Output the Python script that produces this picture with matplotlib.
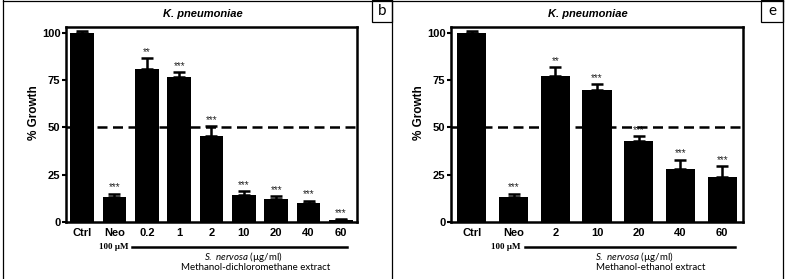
import matplotlib
matplotlib.use("Agg")
from matplotlib import pyplot as plt
from matplotlib.lines import Line2D
from matplotlib.patches import Rectangle
import matplotlib.transforms as mtransforms
import numpy as np

# panel b: methanol-dichloromethane extract
labels_b = ["Ctrl", "Neo", "0.2", "1", "2", "10", "20", "40", "60"]
growth_b = [100, 13, 81, 76.5, 45.5, 14.5, 12, 10, 1]
err_b = [1, 2, 5.5, 2.5, 5, 2, 1.5, 1.3, 0.5]
stars_b = ["", "***", "**", "***", "***", "***", "***", "***", "***"]

# panel e: methanol-ethanol extract
labels_e = ["Ctrl", "Neo", "2", "10", "20", "40", "60"]
growth_e = [100, 13, 77, 69.5, 43, 28, 24]
err_e = [1, 2, 5, 3.5, 2.5, 5, 5.5]
stars_e = ["", "***", "**", "***", "***", "***", "***"]

W, H = 786, 279
fig = plt.figure(figsize=(W / 100, H / 100), dpi=100)

TICK_FONT = "Liberation Sans"
NOTE_FONT = "Lato"
plt.rcParams["mathtext.fontset"] = "custom"
plt.rcParams["mathtext.it"] = "Lato:italic"
plt.rcParams["mathtext.rm"] = "Lato"


def px(x0, y0, w, h):
    # pixel box (from top-left) -> figure fraction rect
    return [x0 / W, (H - y0 - h) / H, w / W, h / H]


def panel(rect, labels, growth, err, stars, width, line_span, extract, letter_box):
    ax = fig.add_axes(rect)
    x = np.arange(len(labels))
    ax.bar(x, growth, width=width, color="black", zorder=2)
    ax.errorbar(x, growth, yerr=[np.zeros(len(err)), err], fmt="none",
                ecolor="black", elinewidth=1.8, capsize=4.5, capthick=1.8, zorder=3)
    for xi, g, e, s in zip(x, growth, err, stars):
        if s:
            ax.text(xi, g + e + 0.6, s, ha="center", va="bottom", fontsize=7,
                    family=TICK_FONT, color="#222222")
    ax.axhline(50, color="black", lw=1.8, ls=(0, (4, 2.2)), zorder=4)
    ax.set_xlim(-0.5, len(labels) - 0.5)
    ax.set_ylim(0, 103)
    ax.set_yticks([0, 25, 50, 75, 100])
    ax.set_xticks(x)
    ax.set_xticklabels(labels)
    for sp in ax.spines.values():
        sp.set_linewidth(1.8)
    ax.tick_params(axis="x", length=0, pad=4)
    ax.tick_params(axis="y", length=3, width=1.5, pad=1)
    for t in ax.get_xticklabels() + ax.get_yticklabels():
        t.set_fontfamily(TICK_FONT)
        t.set_fontweight("bold")
        t.set_fontsize(8)
    ax.set_ylabel("% Growth", family=TICK_FONT, fontweight="bold", fontsize=8.5)
    ax.yaxis.set_label_coords(-0.09, 0.56)
    ax.set_title("K. pneumoniae", family=TICK_FONT, fontweight="bold",
                 style="italic", fontsize=8, pad=7, x=0.47)

    trans = mtransforms.blended_transform_factory(ax.transData, ax.transAxes)
    ax.add_line(Line2D(line_span, [-0.128, -0.128], transform=trans, color="black",
                       lw=1.8, clip_on=False))
    ax.text(line_span[0] - 0.12, -0.128, "100 µM", transform=trans, ha="right",
            va="center", family="Liberation Serif", fontweight="bold", fontsize=6.5)
    cx = (line_span[0] + line_span[1]) / 2 + 0.1
    ax.text(cx, -0.18, "$S.\\ nervosa$ (µg/ml)", transform=trans, ha="center",
            va="center", family=NOTE_FONT, fontsize=7)
    ax.text(cx + 0.4, -0.232, extract, transform=trans, ha="center", va="center",
            family=NOTE_FONT, fontsize=7)
    bx, by, bw, bh, ch = letter_box
    fig.add_artist(Rectangle((bx / W, 1 - bh / H), bw / W, bh / H, transform=fig.transFigure,
                             fill=False, edgecolor="black", lw=0.9))
    fig.text((bx + bw / 2) / W, 1 - bh / 2 / H, ch, ha="center", va="center",
             family=NOTE_FONT, fontsize=11)
    return ax


panel(px(66, 27, 291, 195), labels_b, growth_b, err_b, stars_b, 0.73,
      [1.55, 8.2], "Methanol-dichloromethane extract", (372, 0, 20, 22, "b"))
panel(px(451, 27, 292, 195), labels_e, growth_e, err_e, stars_e, 0.7,
      [1.28, 6.3], "Methanol-ethanol extract", (761, 0, 22, 22, "e"))

# panel frames
for xv in [3, 392, 783]:
    fig.add_artist(Line2D([xv / W, xv / W], [0, 1], transform=fig.transFigure,
                          color="black", lw=0.9))
fig.add_artist(Line2D([3 / W, 783 / W], [1 - 0.5 / H, 1 - 0.5 / H],
                      transform=fig.transFigure, color="black", lw=0.9))

fig.savefig("out.png", dpi=100)
